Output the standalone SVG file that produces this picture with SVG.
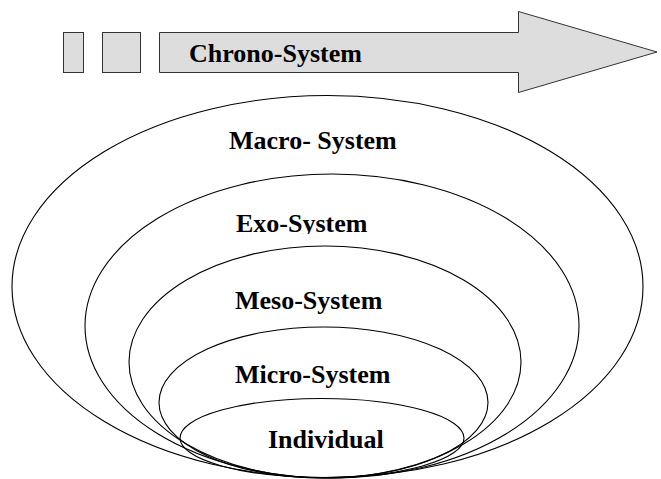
<svg xmlns="http://www.w3.org/2000/svg" width="661" height="479" viewBox="0 0 661 479">
<style>
.t{font-family:"Liberation Serif","Times New Roman",serif;font-weight:bold;font-size:26px;fill:#000}
.g{fill:#dddddd;stroke:#333333;stroke-width:1}
.e{fill:none;stroke:#000;stroke-width:1.1}
</style>
<defs>
<clipPath id="exoclip"><rect x="0" y="200" width="661" height="34"/></clipPath>
</defs>
<rect width="661" height="479" fill="#fff"/>
<g id="chrono">
<rect class="g" x="63.5" y="32.5" width="20" height="40"/>
<rect class="g" x="102.5" y="32.5" width="38" height="40"/>
<polygon class="g" points="159.5,32.5 518.5,32.5 518.5,11.5 657,52 518.5,92.5 518.5,72.5 159.5,72.5"/>
<text class="t" x="189" y="62">Chrono-System</text>
</g>
<g id="macro">
<ellipse class="e" cx="327.5" cy="286.5" rx="315.5" ry="191"/>
<text class="t" x="229" y="149">Macro- System</text>
</g>
<g id="exo">
<ellipse class="e" cx="332" cy="326" rx="247" ry="152"/>
<text class="t" x="236" y="232" clip-path="url(#exoclip)">Exo-System</text>
</g>
<g id="meso">
<ellipse class="e" cx="325" cy="362" rx="196" ry="116"/>
<text class="t" x="235" y="309">Meso-System</text>
</g>
<g id="micro">
<ellipse class="e" cx="323.5" cy="402.5" rx="164.5" ry="75.5"/>
<text class="t" x="235" y="383">Micro-System</text>
</g>
<g id="individual">
<ellipse class="e" cx="322" cy="438" rx="142" ry="39.5"/>
<text class="t" x="268" y="448">Individual</text>
</g>
<g id="connectors"/>
</svg>
